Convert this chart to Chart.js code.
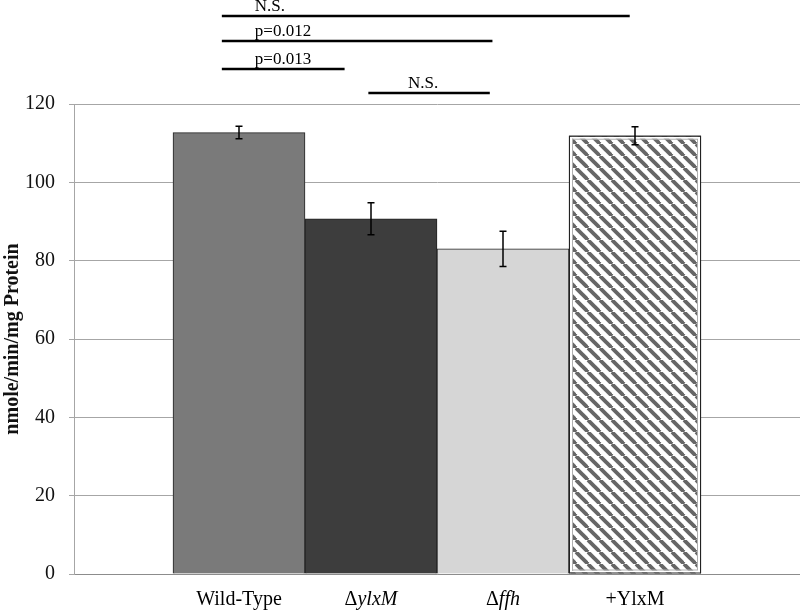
<!DOCTYPE html>
<html>
<head>
<meta charset="utf-8">
<script src="https://cdn.jsdelivr.net/npm/chart.js@4.4.0/dist/chart.umd.min.js"></script>
<style>
  html, body { margin: 0; padding: 0; background: #fff; }
  #wrap { width: 800px; height: 613px; }
</style>
</head>
<body>
<div id="wrap"><canvas id="myChart" width="800" height="613"></canvas></div>
<script>
'use strict';

// values
var categories = ['Wild-Type', 'ΔylxM', 'Δffh', '+YlxM'];
var activity = [112.7, 90.7, 83.0, 111.9];
var errors = [1.6, 4.1, 4.5, 2.3];
var barColors = ['#7a7a7a', '#3d3d3d', '#d6d6d6', 'hatch'];
var yTicks = [0, 20, 40, 60, 80, 100, 120];

// significance lines above the bars (x in bar positions, y in axis units)
var sigLabels = ['N.S.', 'p=0.012', 'p=0.013', 'N.S.'];
var sigStart = [-0.13, -0.13, -0.13, 0.98];
var sigEnd = [2.96, 1.92, 0.80, 1.90];
var sigLevel = [142.5, 136, 129, 122.8];
var sigTextX = [0.12, 0.12, 0.12, 1.28];

var serif = "'Liberation Serif', 'Times New Roman', serif";

var ctx = document.getElementById('myChart').getContext('2d');

// diagonal stripes for the last bar
function makeHatch() {
  var s = 12;
  var c = document.createElement('canvas');
  c.width = s;
  c.height = s;
  var g = c.getContext('2d');
  g.fillStyle = '#ffffff';
  g.fillRect(0, 0, s, s);
  g.strokeStyle = '#666666';
  g.lineWidth = 3.8;
  for (var k = -1; k <= 1; k++) {
    g.beginPath(); g.moveTo(k * s, 0); g.lineTo(k * s + s, s); g.stroke();
  }
  return ctx.createPattern(c, 'repeat');
}
var hatch = makeHatch();

var fills = barColors.map(function (c) { return c === 'hatch' ? hatch : c; });
var points = activity.map(function (v, i) { return { x: i, y: v }; });

// error bars, inner rim of hatched bar, significance lines and x labels
var extras = {
  id: 'extras',
  afterDatasetsDraw: function (chart) {
    var c = chart.ctx;
    var xs = chart.scales.x;
    var ys = chart.scales.y;
    var meta = chart.getDatasetMeta(0);
    c.save();

    // inner white rim + grey edge on the hatched bar
    for (var h = 0; h < barColors.length; h++) {
      if (barColors[h] !== 'hatch') continue;
      var bar = meta.data[h];
      var left = bar.x - bar.width / 2;
      var w = bar.width;
      var top = bar.y;
      var ht = bar.base - bar.y;
      c.strokeStyle = '#ffffff';
      c.lineWidth = 2;
      c.strokeRect(left + 2, top + 2, w - 4, ht - 4);
      c.strokeStyle = '#b0b0b0';
      c.lineWidth = 1;
      c.strokeRect(left + 3.5, top + 3.5, w - 7, ht - 7);
      c.strokeStyle = '#222222';
      c.lineWidth = 1;
      c.strokeRect(left + 0.5, top + 0.5, w - 1, ht - 1);
    }

    // error bars
    c.strokeStyle = '#000000';
    c.lineWidth = 1.5;
    for (var i = 0; i < activity.length; i++) {
      var x = xs.getPixelForValue(i);
      var yHi = ys.getPixelForValue(activity[i] + errors[i]);
      var yLo = ys.getPixelForValue(activity[i] - errors[i]);
      c.beginPath();
      c.moveTo(x, yHi); c.lineTo(x, yLo);
      c.moveTo(x - 3.5, yHi); c.lineTo(x + 3.5, yHi);
      c.moveTo(x - 3.5, yLo); c.lineTo(x + 3.5, yLo);
      c.stroke();
    }

    // significance lines
    c.lineWidth = 2.5;
    c.font = '17px ' + serif;
    c.fillStyle = '#000000';
    c.textAlign = 'left';
    c.textBaseline = 'alphabetic';
    for (var j = 0; j < sigLabels.length; j++) {
      var ly = Math.round(ys.getPixelForValue(sigLevel[j]));
      c.beginPath();
      c.moveTo(xs.getPixelForValue(sigStart[j]), ly);
      c.lineTo(xs.getPixelForValue(sigEnd[j]), ly);
      c.stroke();
      c.fillText(sigLabels[j], xs.getPixelForValue(sigTextX[j]), ly - 5);
    }

    // category labels, gene names in italics
    var upright = '20px ' + serif;
    var italic = 'italic 20px ' + serif;
    var baseY = chart.chartArea.bottom + 31;
    for (var k = 0; k < categories.length; k++) {
      var label = categories[k];
      var head = '', tail = label;
      if (label.charAt(0) === 'Δ') { head = 'Δ'; tail = label.slice(1); }
      c.font = upright;
      var hw = c.measureText(head).width;
      c.font = head ? italic : upright;
      var tw = c.measureText(tail).width;
      var cx = xs.getPixelForValue(k);
      var startX = cx - (hw + tw) / 2;
      c.font = upright;
      c.fillText(head, startX, baseY);
      c.font = head ? italic : upright;
      c.fillText(tail, startX + hw, baseY);
    }
    c.restore();
  }
};

var chart = new Chart(ctx, {
  type: 'bar',
  data: {
    datasets: [{
      data: points,
      backgroundColor: fills,
      borderColor: '#222222',
      borderWidth: 1,
      barPercentage: 1,
      categoryPercentage: 1
    }]
  },
  options: {
    responsive: false,
    animation: false,
    events: [],
    layout: { padding: { top: 104, right: 0, left: 0, bottom: 0 } },
    plugins: {
      legend: { display: false },
      tooltip: { enabled: false }
    },
    scales: {
      x: {
        type: 'linear',
        min: -1.25,
        max: 4.25,
        offset: false,
        grid: { display: false },
        border: { display: true, color: '#8c8c8c', width: 1 },
        ticks: { display: false },
        afterBuildTicks: function (scale) {
          scale.ticks = categories.map(function (c, i) { return { value: i }; });
        },
        afterFit: function (scale) { scale.height = 39; }
      },
      y: {
        min: 0,
        max: 120,
        grid: { color: '#a6a6a6', lineWidth: 1, tickLength: 5, drawTicks: true },
        border: { display: true, color: '#a6a6a6', width: 1 },
        afterBuildTicks: function (scale) {
          scale.ticks = yTicks.map(function (v) { return { value: v }; });
        },
        ticks: {
          color: '#111111',
          padding: 14,
          font: { family: serif, size: 20 }
        },
        title: {
          display: true,
          text: 'nmole/min/mg Protein',
          color: '#111111',
          padding: { top: 1, bottom: 0 },
          font: { family: serif, size: 20, weight: 'bold' }
        },
        afterFit: function (scale) { scale.width = 74; }
      }
    }
  },
  plugins: [extras]
});
</script>
</body>
</html>
